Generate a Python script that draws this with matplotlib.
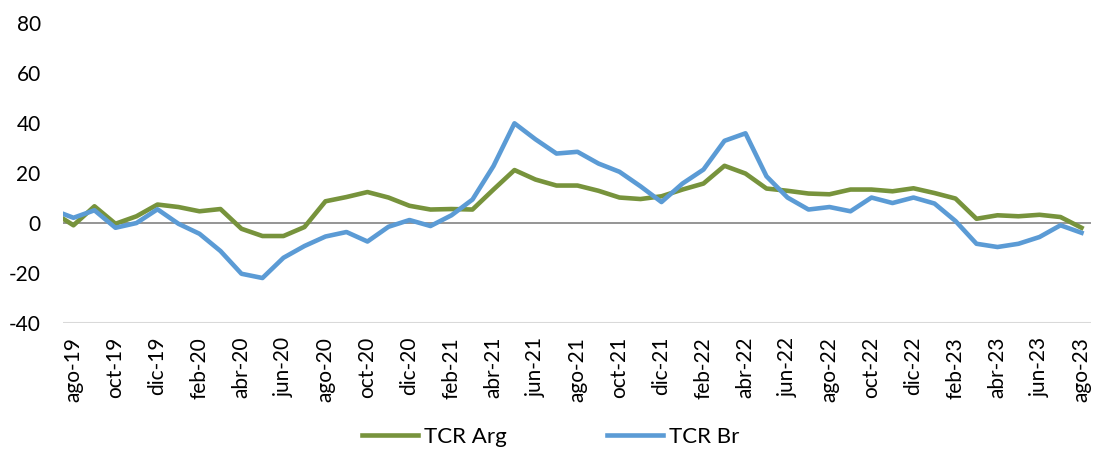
import numpy as np
import matplotlib
matplotlib.use("Agg")
import matplotlib.pyplot as plt

# ============================================================
# DATA (jul-19 .. ago-23, monthly; jul-19 is clipped by the axis)
# ============================================================

month_names = ["ene", "feb", "mar", "abr", "may", "jun",
               "jul", "ago", "sep", "oct", "nov", "dic"]

tcr_arg = [4.4, -0.9, 6.7, -0.3, 2.7, 7.4,
           6.4, 4.7, 5.6, -2.3, -5.2, -5.2, -1.6, 8.7, 10.4, 12.4, 10.2, 6.9,
           5.4, 5.6, 5.4, 13.4, 21.2, 17.4, 15.0, 15.0, 12.9, 10.2, 9.6, 10.7,
           13.4, 15.8, 22.9, 19.8, 13.8, 12.9, 11.8, 11.5, 13.4, 13.4, 12.7, 13.9,
           12.0, 9.8, 1.7, 3.1, 2.7, 3.3, 2.4, -1.9]

tcr_br = [5.3, 2.1, 5.1, -1.9, 0.0, 5.5,
          -0.3, -4.3, -11.2, -20.3, -22.0, -13.9, -9.2, -5.4, -3.6, -7.4, -1.5, 1.2,
          -1.2, 3.1, 9.4, 22.8, 39.9, 33.5, 27.8, 28.5, 23.8, 20.5, 14.7, 8.4,
          15.8, 21.4, 32.9, 35.9, 18.7, 10.2, 5.4, 6.4, 4.7, 10.2, 8.0, 10.2,
          7.8, 0.8, -8.3, -9.6, -8.3, -5.6, -0.9, -3.9]

y_ticks = [-40, -20, 0, 20, 40, 60, 80]

# month labels, starting at jul-19
labels = []
m, yr = 6, 19
for _ in range(len(tcr_arg)):
    labels.append(f"{month_names[m]}-{yr}")
    m += 1
    if m == 12:
        m, yr = 0, yr + 1

x = np.arange(len(labels)) - 1  # ago-19 at 0

# ============================================================
# PLOT
# ============================================================

plt.rcParams["font.family"] = ["Lato", "DejaVu Sans"]

fig = plt.figure(figsize=(10.95, 4.53), dpi=100)
ax = fig.add_axes([0.0575, 0.287, 0.9388, 0.662])

ax.plot(x, tcr_arg, color="#77933C", lw=3.3, label="TCR Arg", solid_joinstyle="round")
ax.plot(x, tcr_br, color="#5B9BD5", lw=3.3, label="TCR Br", solid_joinstyle="round")

ax.axhline(0, color="#8C8C8C", lw=1.3, zorder=1)
ax.axhline(-40, color="#D9D9D9", lw=1.5, zorder=1)

ax.set_xlim(-0.5, 48.45)
ax.set_ylim(-40, 80)
ax.set_yticks(y_ticks)
ax.set_yticklabels([str(v) for v in y_ticks], fontsize=15)

ax.set_xticks(x[1::2])
ax.set_xticklabels(labels[1::2], rotation=90, fontsize=15)
ax.tick_params(axis="both", length=0)
ax.tick_params(axis="y", pad=16)
ax.tick_params(axis="x", pad=10)

for s in ax.spines.values():
    s.set_visible(False)

fig.legend(*ax.get_legend_handles_labels(), loc="center",
           bbox_to_anchor=(0.503, 0.035), ncol=2, frameon=False, fontsize=16,
           handlelength=2.5, columnspacing=4.5, handletextpad=0.3,
           borderaxespad=0, borderpad=0)

fig.savefig("out.png", dpi=100)
